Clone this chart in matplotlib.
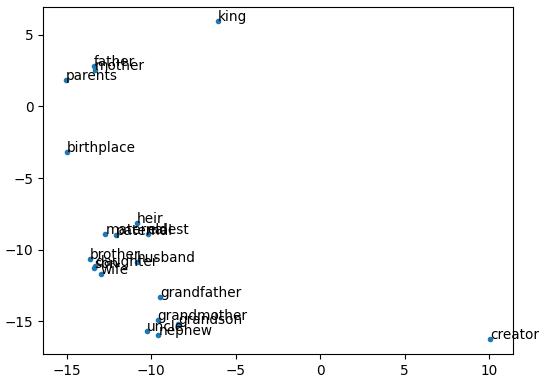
import matplotlib
matplotlib.use("Agg")
import matplotlib.pyplot as plt

words = ["king", "father", "mother", "parents", "birthplace", "heir", "maternal",
         "paternal", "eldest", "brother", "son", "daughter", "wife", "husband",
         "grandfather", "grandmother", "grandson", "uncle", "nephew", "creator"]
xs = [-6.04, -13.39, -13.33, -15.05, -14.99, -10.86, -12.72,
      -12.10, -10.21, -13.65, -13.39, -13.33, -12.99, -10.85,
      -9.48, -9.62, -8.39, -10.23, -9.58, 10.07]
ys = [5.98, 2.83, 2.55, 1.85, -3.18, -8.17, -8.94,
      -8.97, -8.94, -10.66, -11.29, -11.15, -11.71, -10.85,
      -13.30, -14.93, -15.16, -15.68, -15.93, -16.26]

fig = plt.figure(figsize=(5.39, 3.8), dpi=100)
ax = fig.add_axes([0.08, 0.068, 0.872, 0.914])
ax.scatter(xs, ys, s=9, color="#1f77b4")
for w, x, y in zip(words, xs, ys):
    ax.text(x, y, w, fontsize=9.8)
ax.set_xlim(-16.4, 11.43)
ax.set_ylim(-17.3, 6.96)
ax.set_xticks([-15, -10, -5, 0, 5, 10])
ax.set_yticks([-15, -10, -5, 0, 5])
ax.tick_params(labelsize=9.8)
fig.savefig("out.png", dpi=100)
